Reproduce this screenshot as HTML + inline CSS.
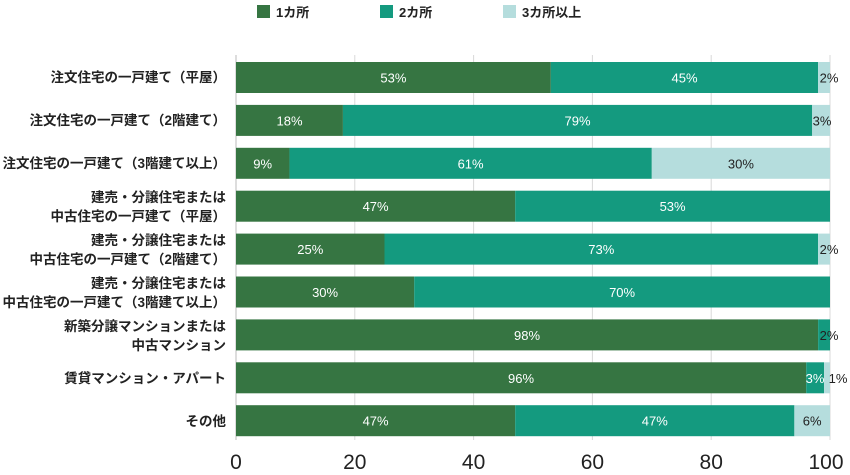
<!DOCTYPE html>
<html><head><meta charset="utf-8"><style>
body{margin:0;background:#fff;}
svg text{font-family:"Liberation Sans","Noto Sans CJK JP",sans-serif;}
</style></head><body>
<svg width="850" height="470" xmlns="http://www.w3.org/2000/svg">
<g font-size="13" font-weight="bold" fill="#222">
<rect x="257" y="5" width="13" height="13" fill="#367542"/><text x="276" y="17">1カ所</text>
<rect x="380" y="5" width="13" height="13" fill="#149a7f"/><text x="399" y="17">2カ所</text>
<rect x="503" y="5" width="13" height="13" fill="#b5dddd"/><text x="522" y="17">3カ所以上</text>
</g>
<g stroke="#d8d8d8" stroke-width="1">
<line x1="354.8" y1="55" x2="354.8" y2="440"/><line x1="473.6" y1="55" x2="473.6" y2="440"/>
<line x1="592.4" y1="55" x2="592.4" y2="440"/><line x1="711.2" y1="55" x2="711.2" y2="440"/>
<line x1="830" y1="55" x2="830" y2="440"/>
</g>
<line x1="236" y1="55" x2="236" y2="440" stroke="#bbb"/>
<g>
<rect x="236" y="62" width="314.82" height="31" fill="#367542"/><rect x="550.82" y="62" width="267.3" height="31" fill="#149a7f"/><rect x="818.12" y="62" width="11.88" height="31" fill="#b5dddd"/>
<rect x="236" y="104.9" width="106.92" height="31" fill="#367542"/><rect x="342.92" y="104.9" width="469.26" height="31" fill="#149a7f"/><rect x="812.18" y="104.9" width="17.82" height="31" fill="#b5dddd"/>
<rect x="236" y="147.8" width="53.46" height="31" fill="#367542"/><rect x="289.46" y="147.8" width="362.34" height="31" fill="#149a7f"/><rect x="651.8" y="147.8" width="178.2" height="31" fill="#b5dddd"/>
<rect x="236" y="190.7" width="279.18" height="31" fill="#367542"/><rect x="515.18" y="190.7" width="314.82" height="31" fill="#149a7f"/>
<rect x="236" y="233.6" width="148.5" height="31" fill="#367542"/><rect x="384.5" y="233.6" width="433.62" height="31" fill="#149a7f"/><rect x="818.12" y="233.6" width="11.88" height="31" fill="#b5dddd"/>
<rect x="236" y="276.5" width="178.2" height="31" fill="#367542"/><rect x="414.2" y="276.5" width="415.8" height="31" fill="#149a7f"/>
<rect x="236" y="319.4" width="582.12" height="31" fill="#367542"/><rect x="818.12" y="319.4" width="11.88" height="31" fill="#149a7f"/>
<rect x="236" y="362.3" width="570.24" height="31" fill="#367542"/><rect x="806.24" y="362.3" width="17.82" height="31" fill="#149a7f"/><rect x="824.06" y="362.3" width="5.94" height="31" fill="#b5dddd"/>
<rect x="236" y="405.2" width="279.18" height="31" fill="#367542"/><rect x="515.18" y="405.2" width="279.18" height="31" fill="#149a7f"/><rect x="794.36" y="405.2" width="35.64" height="31" fill="#b5dddd"/>
</g>
<g font-size="13" text-anchor="middle" fill="#fff">
<text x="393.4" y="82.5">53%</text><text x="684.5" y="82.5">45%</text>
<text x="289.5" y="125.4">18%</text><text x="577.5" y="125.4">79%</text>
<text x="262.7" y="168.3">9%</text><text x="470.6" y="168.3">61%</text>
<text x="375.6" y="211.2">47%</text><text x="672.6" y="211.2">53%</text>
<text x="310.3" y="254.1">25%</text><text x="601.3" y="254.1">73%</text>
<text x="325.1" y="297">30%</text><text x="622.1" y="297">70%</text>
<text x="527" y="339.9">98%</text>
<text x="521" y="382.8">96%</text><text x="815" y="382.8">3%</text>
<text x="375.6" y="425.7">47%</text><text x="654.8" y="425.7">47%</text>
</g>
<g font-size="13" text-anchor="middle" fill="#222">
<text x="829" y="82.5">2%</text><text x="822" y="125.4">3%</text><text x="740.9" y="168.3">30%</text>
<text x="829" y="254.1">2%</text><text x="829" y="339.9">2%</text><text x="838" y="382.8">1%</text><text x="812.2" y="425.7">6%</text>
</g>
<g font-size="21" fill="#222" text-anchor="middle">
<text x="236" y="469">0</text><text x="354.8" y="469">20</text><text x="473.6" y="469">40</text><text x="592.4" y="469">60</text><text x="711.2" y="469">80</text><text x="826" y="469">100</text>
</g>
<g font-size="13.5" font-weight="bold" fill="#222" text-anchor="end">
<text x="226" y="82">注文住宅の一戸建て（平屋）</text>
<text x="226" y="125">注文住宅の一戸建て（2階建て）</text>
<text x="226" y="168">注文住宅の一戸建て（3階建て以上）</text>
<text x="226" y="202">建売・分譲住宅または</text><text x="226" y="221">中古住宅の一戸建て（平屋）</text>
<text x="226" y="245">建売・分譲住宅または</text><text x="226" y="264">中古住宅の一戸建て（2階建て）</text>
<text x="226" y="288">建売・分譲住宅または</text><text x="226" y="307">中古住宅の一戸建て（3階建て以上）</text>
<text x="226" y="331">新築分譲マンションまたは</text><text x="226" y="350">中古マンション</text>
<text x="226" y="383">賃貸マンション・アパート</text>
<text x="226" y="426">その他</text>
</g>
</svg>
</body></html>
